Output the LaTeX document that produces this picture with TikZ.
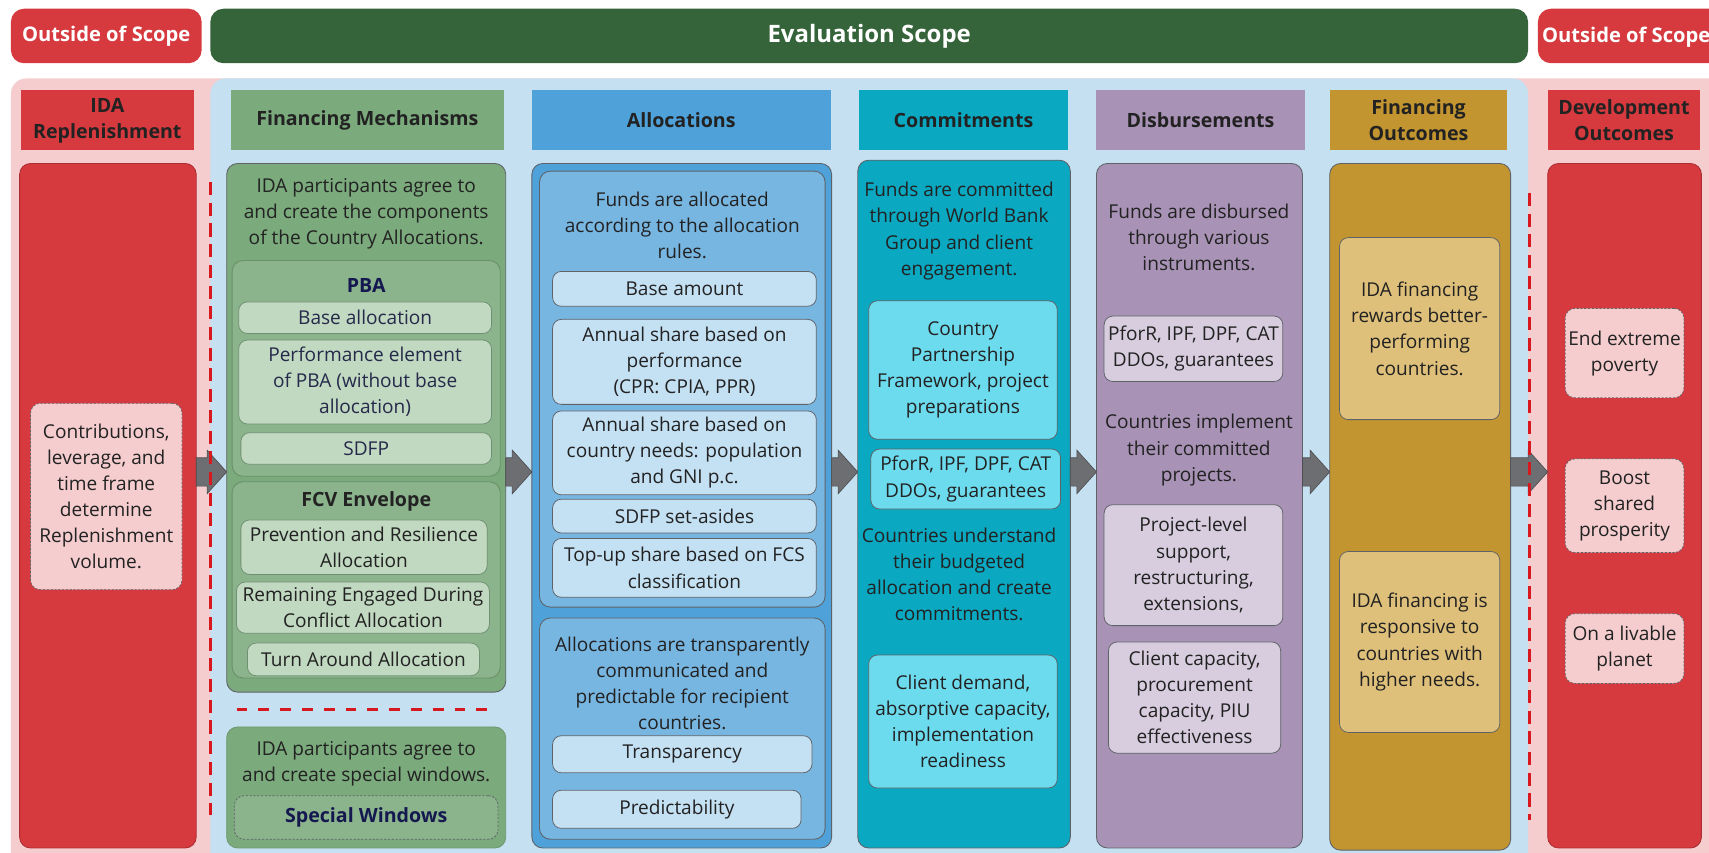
\documentclass[tikz,border=0pt]{standalone}
\usepackage{fontspec}
\setmainfont{Open Sans}
\usetikzlibrary{calc}
\definecolor{cred}{HTML}{D6393E}
\definecolor{cpink}{HTML}{F5CDCF}
\definecolor{cbluebg}{HTML}{C4E0F1}
\definecolor{cdkgreen}{HTML}{35633A}
\definecolor{cgreen}{HTML}{7BAA7C}
\definecolor{cgreenmid}{HTML}{8BB48D}
\definecolor{cgreenlt}{HTML}{C1D8C1}
\definecolor{cblue}{HTML}{4FA1D9}
\definecolor{cbluemid}{HTML}{78B6E2}
\definecolor{cbluelt}{HTML}{C4E0F3}
\definecolor{cteal}{HTML}{0AA8C1}
\definecolor{ctealt}{HTML}{6DDBEE}
\definecolor{cpurple}{HTML}{A892B5}
\definecolor{cpurplelt}{HTML}{D7CDDF}
\definecolor{cgold}{HTML}{C29530}
\definecolor{cgoldlt}{HTML}{DEC07A}
\definecolor{cgrey}{HTML}{6D6E71}
\definecolor{cnavy}{HTML}{15184F}
\definecolor{cnavytxt}{HTML}{262A4A}
\definecolor{ctext}{HTML}{222222}
\definecolor{cborder}{HTML}{5F6368}
\definecolor{cdash}{HTML}{D7191F}
\newcommand{\bodyfnt}{\fontsize{17.5}{24}\selectfont}
\newcommand{\hdrfnt}{\bfseries\fontsize{18}{24}\selectfont}
\newcommand{\bx}[7]{\node[#2, minimum width={(#5-#3)*1pt}, minimum height={(#6-#4)*1pt}] (#1) at ({(#3+#5)/2},{(#4+#6)/2}) {#7};}
\newcommand{\barrow}[3]{%
  \coordinate (#1s) at (#2.east |- ay);
  \coordinate (#1t) at (#3.west |- ay);
  \filldraw[arrowst] ($(#1s)+(0,-13)$) -- ($(#1t)+(-18,-13)$) -- ($(#1t)+(-18,-20)$) -- (#1t)
     -- ($(#1t)+(-18,20)$) -- ($(#1t)+(-18,13)$) -- ($(#1s)+(0,13)$) -- cycle;}
\begin{document}
\begin{tikzpicture}[x=1pt,y=-1pt,
  base/.style={inner sep=0pt, outer sep=0pt, align=center, text=ctext, font=\bodyfnt},
  txt/.style={base},
  topbar/.style={base, rounded corners=12pt, text=white, font=\bfseries\fontsize{18.5}{24}\selectfont},
  hdr/.style={base, font=\hdrfnt, text=ctext},
  bg/.style={inner sep=0pt, outer sep=0pt, rounded corners=14pt},
  rbox/.style={base, draw=cborder, line width=0.8pt, rounded corners=10pt},
  sbox/.style={base, draw=cborder, line width=0.7pt, rounded corners=8pt},
  dbox/.style={base, fill=cpink, draw=cborder, line width=0.7pt, dash pattern=on 2pt off 1.5pt, rounded corners=9pt},
  reddash/.style={draw=cdash, line width=2.6pt},
  arrowst/.style={fill=cgrey, draw=cgrey!70!black, line width=0.6pt, line join=miter}
]
\useasboundingbox (0,0) rectangle (1568,782);
% backgrounds
\bx{pinkbg}{bg, fill=cpink}{10}{72}{1600}{810}{}
\bx{bluebg}{bg, fill=cbluebg}{193}{72}{1402}{810}{}
% top bar
\bx{oosL}{topbar, fill=cred}{10}{8}{185}{58}{Outside of Scope}
\bx{evs}{topbar, fill=cdkgreen, font=\bfseries\fontsize{22}{26}\selectfont}{193}{8}{1402}{58}{Evaluation Scope}
\bx{oosR}{topbar, fill=cred}{1411}{8}{1586}{58}{}
\node[base, text=white, font=\bfseries\fontsize{18.5}{24}\selectfont] (oosRt) at (1492,34) {Outside of Scope};
% headers
\bx{hIDA}{hdr, fill=cred}{19}{83}{178}{138}{IDA\\Replenishment}
\bx{hFM}{hdr, fill=cgreen}{212}{83}{462}{138}{Financing Mechanisms}
\bx{hAL}{hdr, fill=cblue}{488}{83}{762}{138}{Allocations}
\bx{hCO}{hdr, fill=cteal}{788}{83}{980}{138}{Commitments}
\bx{hDI}{hdr, fill=cpurple}{1006}{83}{1197}{138}{Disbursements}
\bx{hFO}{hdr, fill=cgold}{1220}{83}{1383}{138}{Financing\\Outcomes}
\bx{hDO}{hdr, fill=cred}{1420}{83}{1560}{138}{Development\\Outcomes}
% IDA replenishment
\bx{bIDA}{rbox, fill=cred, draw=cred!80!black}{18}{150}{180}{778}{}
\bx{iIDA}{dbox}{28}{370}{167}{541}{Contributions,\\leverage, and\\time frame\\determine\\Replenishment\\volume.}
% Financing mechanisms
\bx{bFM}{rbox, fill=cgreen}{208}{150}{464}{635}{}
\node[txt] (tFM) at (336,196) {IDA participants agree to\\and create the components\\of the Country Allocations.};
\bx{gPBA}{rbox, fill=cgreenmid, draw=cgreen!85!black}{213}{239}{459}{437}{}
\node[txt, font=\hdrfnt, text=cnavy] (lPBA) at (336,262) {PBA};
\bx{sBase}{sbox, fill=cgreenlt, draw=cgreenmid!80!black, text=cnavytxt}{219}{277}{451}{306}{Base allocation}
\bx{sPerf}{sbox, fill=cgreenlt, draw=cgreenmid!80!black, text=cnavytxt}{219}{312}{451}{389}{Performance element\\of PBA (without base\\allocation)}
\bx{sSDFP}{sbox, fill=cgreenlt, draw=cgreenmid!80!black, text=cnavytxt}{221}{397}{451}{426}{SDFP}
\bx{gFCV}{rbox, fill=cgreenmid, draw=cgreen!85!black}{213}{442}{459}{622}{}
\node[txt, font=\hdrfnt] (lFCV) at (336,460) {FCV Envelope};
\bx{sPrev}{sbox, fill=cgreenlt, draw=cgreenmid!80!black}{221}{477}{447}{527}{Prevention and Resilience\\Allocation}
\bx{sRem}{sbox, fill=cgreenlt, draw=cgreenmid!80!black}{217}{534}{449}{581}{Remaining Engaged During\\Conflict Allocation}
\bx{sTurn}{sbox, fill=cgreenlt, draw=cgreenmid!80!black}{227}{590}{440}{620}{Turn Around Allocation}
\coordinate (dh1) at (217,651);
\coordinate (dh2) at (449,651);
\bx{bSW}{rbox, fill=cgreen, draw=cgreen!90!black}{208}{667}{464}{778}{}
\node[txt] (tSW) at (336,701) {IDA participants agree to\\and create special windows.};
\bx{sSW}{dbox, fill=cgreenmid, text=cnavy, font=\hdrfnt}{215}{730}{457}{770}{Special Windows}
% Allocations
\bx{bAL}{rbox, fill=cblue}{488}{150}{763}{778}{}
\bx{gAL1}{rbox, fill=cbluemid}{495}{157}{757}{557}{}
\node[txt] (tAL1) at (626,207) {Funds are allocated\\according to the allocation\\rules.};
\bx{sBaseAmt}{sbox, fill=cbluelt}{507}{249}{749}{281}{Base amount}
\bx{sPerfAnn}{sbox, fill=cbluelt}{507}{293}{749}{371}{Annual share based on\\performance\\(CPR: CPIA, PPR)}
\bx{sNeeds}{sbox, fill=cbluelt}{507}{377}{749}{454}{Annual share based on\\country needs: population\\and GNI p.c.}
\bx{sSDFPsa}{sbox, fill=cbluelt}{507}{458}{749}{489}{SDFP set-asides}
\bx{sTopup}{sbox, fill=cbluelt}{507}{494}{749}{548}{Top-up share based on FCS\\classification}
\bx{gAL2}{rbox, fill=cbluemid}{495}{567}{757}{770}{}
\node[txt] (tAL2) at (626,627) {Allocations are transparently\\communicated and\\predictable for recipient\\countries.};
\bx{sTransp}{sbox, fill=cbluelt}{507}{675}{745}{709}{Transparency}
\bx{sPred}{sbox, fill=cbluelt}{507}{725}{735}{760}{Predictability}
% Commitments
\bx{bCO}{rbox, fill=cteal}{787}{147}{982}{778}{}
\node[txt] (tCO1) at (880,212) {Funds are committed\\through World Bank\\Group and client\\engagement.};
\bx{sCPF}{sbox, fill=ctealt}{797}{276}{970}{403}{Country\\Partnership\\Framework, project\\preparations}
\bx{sInstrC}{sbox, fill=ctealt}{799}{412}{973}{467}{PforR, IPF, DPF, CAT\\DDOs, guarantees}
\node[txt] (tCO2) at (880,527) {Countries understand\\their budgeted\\allocation and create\\commitments.};
\bx{sDemand}{sbox, fill=ctealt}{797}{601}{970}{723}{Client demand,\\absorptive capacity,\\implementation\\readiness}
% Disbursements
\bx{bDI}{rbox, fill=cpurple}{1006}{150}{1195}{778}{}
\node[txt] (tDI1) at (1100,218) {Funds are disbursed\\through various\\instruments.};
\bx{sInstrD}{sbox, fill=cpurplelt}{1013}{290}{1177}{350}{PforR, IPF, DPF, CAT\\DDOs, guarantees}
\node[txt] (tDI2) at (1100,413) {Countries implement\\their committed\\projects.};
\bx{sProj}{sbox, fill=cpurplelt}{1013}{463}{1177}{574}{Project-level\\support,\\restructuring,\\extensions,}
\bx{sCap}{sbox, fill=cpurplelt}{1017}{589}{1175}{691}{Client capacity,\\procurement\\capacity, PIU\\effectiveness}
% Financing outcomes
\bx{bFO}{rbox, fill=cgold}{1220}{150}{1386}{780}{}
\bx{sRew}{sbox, fill=cgoldlt}{1229}{218}{1376}{385}{IDA financing\\rewards better-\\performing\\countries.}
\bx{sResp}{sbox, fill=cgoldlt}{1229}{506}{1376}{672}{IDA financing is\\responsive to\\countries with\\higher needs.}
% Development outcomes
\bx{bDO}{rbox, fill=cred, draw=cred!80!black}{1420}{150}{1561}{778}{}
\bx{sPov}{dbox}{1436}{283}{1545}{365}{End extreme\\poverty}
\bx{sProsp}{dbox}{1436}{421}{1545}{507}{Boost\\shared\\prosperity}
\bx{sPlanet}{dbox}{1436}{563}{1545}{627}{On a livable\\planet}
% arrows
\coordinate (ay) at (0,433);
\barrow{a1}{bIDA}{bFM}
\barrow{a2}{bFM}{bAL}
\barrow{a3}{bAL}{bCO}
\barrow{a4}{bCO}{bDI}
\barrow{a5}{bDI}{bFO}
\barrow{a6}{bFO}{bDO}
% red dashed separators
\coordinate (dl1) at (193,167);
\coordinate (dl2) at (193,748);
\coordinate (dr1) at (1403,177);
\coordinate (dr2) at (1403,752);
\draw[reddash, dash pattern=on 12pt off 7pt] (dl1) -- (dl2);
\draw[reddash, dash pattern=on 12pt off 7pt] (dr1) -- (dr2);
\draw[reddash, dash pattern=on 10pt off 10pt] (dh1) -- (dh2);
\end{tikzpicture}
\end{document}
